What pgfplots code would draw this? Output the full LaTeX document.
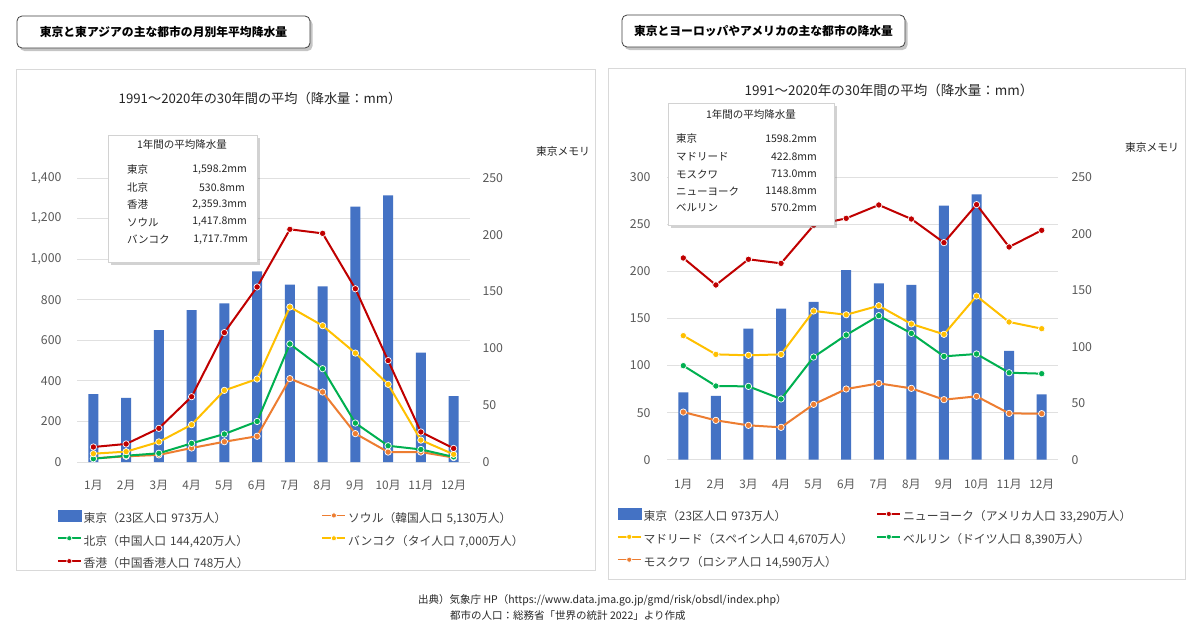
\documentclass[border=0pt]{standalone}
\usepackage{pgfplots}
\pgfplotsset{compat=1.18}
\usepackage{pgfplotstable}
\usepackage{fontspec}
\setmainfont{Noto Sans CJK JP}
\usetikzlibrary{shadows}
\definecolor{tkblue}{HTML}{4472C4}
\definecolor{cred}{HTML}{C00000}
\definecolor{cyel}{HTML}{FFC000}
\definecolor{cgrn}{HTML}{00B050}
\definecolor{corg}{HTML}{ED7D31}
\definecolor{tickgray}{HTML}{595959}
\definecolor{gridgray}{HTML}{E0E0E0}
\definecolor{framegray}{HTML}{D9D9D9}
\definecolor{txt}{HTML}{262626}
\definecolor{legtxt}{HTML}{404040}

\pgfplotstableread{
m tokyo hk bkk bj seoul
1 59.7 74 41 16 18
2 56.5 89 51 31 28
3 116.0 166 99 43 35
4 133.7 322 184 92 69
5 139.7 638 353 138 100
6 167.8 863 409 200 127
7 156.2 1147 764 582 411
8 154.7 1127 672 460 345
9 224.9 854 537 192 140
10 234.8 500 383 80 49
11 96.3 148 108 62 49
12 57.9 67 38 25 22
}\eastasia

\pgfplotstableread{
m tokyo ny madrid berlin moscow
1 59.7 214.3 131.8 99.9 50.6
2 56.5 185.6 111.9 78.3 41.8
3 116.0 212.9 110.9 77.9 36.5
4 133.7 208.6 111.9 64.5 34.4
5 139.7 249.0 158.0 109.1 58.8
6 167.8 256.4 154.0 132.5 75.1
7 156.2 270.6 163.6 153.0 81.1
8 154.7 255.7 144.2 134.2 75.8
9 224.9 230.6 133.2 109.8 63.8
10 234.8 271.0 173.9 112.3 67.3
11 96.3 226.0 146.3 92.4 49.2
12 57.9 243.7 139.2 91.4 48.9
}\euram

\pgfplotsset{
  base/.style={scale only axis, xmin=0.5, xmax=12.5, ymin=0, clip=false},
  gridaxis/.style={base, axis line style={draw=none}, major tick length=0pt,
    ymajorgrids, grid style={gridgray, line width=0.9pt},
    xtick={1,...,12},
    xticklabels={1月,2月,3月,4月,5月,6月,7月,8月,9月,10月,11月,12月},
    yticklabel style={font=\fontsize{12.3}{14}\selectfont, text=tickgray},
    xticklabel style={font=\fontsize{11.8}{14}\selectfont, text=tickgray},
    /pgf/number format/assume math mode=true,
    /pgf/number format/1000 sep={,}},
  baraxis/.style={base, axis x line=none, axis y line*=right,
    y axis line style={draw=none}, major tick length=0pt, ytick distance=50,
    ymax=250,
    yticklabel style={font=\fontsize{12.3}{14}\selectfont, text=tickgray},
    /pgf/number format/assume math mode=true},
  lineaxis/.style={base, hide axis, legend columns=2, legend cell align=left},
  ser/.style={color=#1, line width=2pt, mark=*, mark size=3.2pt,
    mark options={fill=#1, draw=white, line width=0.7pt}},
  legsty/.style={legend style={draw=none, fill=none, inner sep=0pt, outer sep=0pt,
    row sep=11pt,
    nodes={inner xsep=2pt, inner ysep=0pt, text height=9pt, text depth=2.5pt,
      text width=#1, font=\fontsize{11.8}{14}\selectfont, text=legtxt}}},
}

\begin{document}
\begin{tikzpicture}
\fill[white] (0pt,0pt) rectangle (1200pt,-632pt);
\begin{scope}[x=1pt,y=-1pt]
  \draw[framegray, line width=0.8pt] (16.5,69) rectangle (595,570.5);
  \draw[framegray, line width=0.8pt] (608,68) rectangle (1185,579);
\end{scope}

% ---------------- left chart ----------------
\begin{axis}[gridaxis, at={(77pt,-462pt)}, anchor=south west, width=393pt, height=284pt,
  ymax=1400, ytick distance=200,
  yticklabel style={xshift=-12pt}, xticklabel style={yshift=-15pt}]
\end{axis}
\begin{axis}[baraxis, at={(77pt,-462pt)}, anchor=south west, width=393pt, height=284pt,
  yticklabel style={xshift=9pt}]
\addplot[ybar, bar width=10pt, fill=tkblue, draw=none] table[x=m,y=tokyo] {\eastasia};
\end{axis}
\begin{axis}[lineaxis, at={(77pt,-462pt)}, anchor=south west, width=393pt, height=284pt,
  ymax=1400, legsty=236pt,
  legend style={at={(axis description cs:-0.0509,-0.168)}, anchor=north west},
  legend image code/.code={\draw[#1, line width=1.6pt, mark size=2.6pt, mark repeat=2, mark phase=2] plot coordinates {(0pt,3.5pt) (11.5pt,3.5pt) (23pt,3.5pt)};}]
\addlegendimage{legend image code/.code={\fill[tkblue] (0pt,-2pt) rectangle (23pt,9pt);}}
\addlegendentry{東京（23区人口 973万人）}
\addplot[ser=corg] table[x=m,y=seoul] {\eastasia};
\addlegendentry{ソウル（韓国人口 5,130万人）}
\addplot[ser=cgrn] table[x=m,y=bj] {\eastasia};
\addlegendentry{北京（中国人口 144,420万人）}
\addplot[ser=cyel] table[x=m,y=bkk] {\eastasia};
\addlegendentry{バンコク（タイ人口 7,000万人）}
\addplot[ser=cred] table[x=m,y=hk] {\eastasia};
\addlegendentry{香港（中国香港人口 748万人）}
\end{axis}

% ---------------- right chart ----------------
\begin{axis}[gridaxis, at={(667pt,-459.7pt)}, anchor=south west, width=391pt, height=282.4pt,
  ymax=300, ytick distance=50,
  yticklabel style={xshift=-13pt}, xticklabel style={yshift=-16pt}]
\end{axis}
\begin{axis}[baraxis, at={(667pt,-459.7pt)}, anchor=south west, width=391pt, height=282.4pt,
  yticklabel style={xshift=10pt}]
\addplot[ybar, bar width=10pt, fill=tkblue, draw=none] table[x=m,y=tokyo] {\euram};
\end{axis}
\begin{axis}[lineaxis, at={(667pt,-459.7pt)}, anchor=south west, width=391pt, height=282.4pt,
  ymax=300, legsty=231pt,
  legend style={at={(axis description cs:-0.128,-0.172)}, anchor=north west},
  legend image code/.code={\draw[#1, line width=1.6pt, mark size=2.6pt, mark repeat=2, mark phase=2] plot coordinates {(0pt,3.5pt) (11.5pt,3.5pt) (23pt,3.5pt)};}]
\addlegendimage{legend image code/.code={\fill[tkblue] (0pt,-2pt) rectangle (23pt,9pt);}}
\addlegendentry{東京（23区人口 973万人）}
\addplot[ser=cred] table[x=m,y=ny] {\euram};
\addlegendentry{ニューヨーク（アメリカ人口 33,290万人）}
\addplot[ser=cyel] table[x=m,y=madrid] {\euram};
\addlegendentry{マドリード（スペイン人口 4,670万人）}
\addplot[ser=cgrn] table[x=m,y=berlin] {\euram};
\addlegendentry{ベルリン（ドイツ人口 8,390万人）}
\addplot[ser=corg] table[x=m,y=moscow] {\euram};
\addlegendentry{モスクワ（ロシア人口 14,590万人）}
\end{axis}

% ---------------- annotations ----------------
\begin{scope}[x=1pt,y=-1pt]
  % title boxes
  \node[draw=black!75, line width=0.8pt, rounded corners=5pt, fill=white,
    drop shadow={shadow xshift=2.5pt, shadow yshift=-3pt, opacity=0.45},
    minimum width=293pt, minimum height=32pt, inner sep=0pt,
    font=\fontsize{11.8}{14}\selectfont\bfseries, text=black] at (163.5,32)
    {東京と東アジアの主な都市の月別年平均降水量};
  \node[draw=black!75, line width=0.8pt, rounded corners=5pt, fill=white,
    drop shadow={shadow xshift=2.5pt, shadow yshift=-3pt, opacity=0.45},
    minimum width=283pt, minimum height=32pt, inner sep=0pt,
    font=\fontsize{11.8}{14}\selectfont\bfseries, text=black] at (763.5,31)
    {東京とヨーロッパやアメリカの主な都市の降水量};
  % subtitles
  \node[font=\fontsize{13.2}{15}\selectfont, text=txt] at (260,98)
    {1991～2020年の30年間の平均（降水量：mm）};
  \node[font=\fontsize{13.5}{15}\selectfont, text=txt] at (889,90)
    {1991～2020年の30年間の平均（降水量：mm）};
  % right axis captions
  \node[font=\fontsize{10.8}{12}\selectfont, text=txt] at (563,151) {東京メモリ};
  \node[font=\fontsize{10.8}{12}\selectfont, text=txt] at (1152,147) {東京メモリ};
  % info box left
  \draw[gray!35, fill=white, line width=0.6pt,
    drop shadow={shadow xshift=2.5pt, shadow yshift=-2.5pt, opacity=0.35}]
    (108,135) rectangle (257,262);
  \begin{scope}[every node/.style={font=\fontsize{10.5}{12}\selectfont, text=txt, inner sep=0pt}]
    \node at (182,145) {1年間の平均降水量};
    \node[anchor=west] at (127,170) {東京};
    \node[anchor=west] at (127,187.5) {北京};
    \node[anchor=west] at (127,205) {香港};
    \node[anchor=west] at (127,222) {ソウル};
    \node[anchor=west] at (127,239.5) {バンコク};
    \node[anchor=east] at (247,170) {1,598.2mm};
    \node[anchor=east] at (245,187.5) {530.8mm};
    \node[anchor=east] at (247,205) {2,359.3mm};
    \node[anchor=east] at (247,222) {1,417.8mm};
    \node[anchor=east] at (248,239.5) {1,717.7mm};
  \end{scope}
  % info box right
  \draw[gray!35, fill=white, line width=0.6pt,
    drop shadow={shadow xshift=2.5pt, shadow yshift=-2.5pt, opacity=0.35}]
    (668,103) rectangle (834,225);
  \begin{scope}[every node/.style={font=\fontsize{10.5}{12}\selectfont, text=txt, inner sep=0pt}]
    \node at (751,115) {1年間の平均降水量};
    \node[anchor=west] at (676,139) {東京};
    \node[anchor=west] at (676,157) {マドリード};
    \node[anchor=west] at (676,174) {モスクワ};
    \node[anchor=west] at (676,191) {ニューヨーク};
    \node[anchor=west] at (676,208) {ベルリン};
    \node[anchor=east] at (817,139) {1598.2mm};
    \node[anchor=east] at (817,157) {422.8mm};
    \node[anchor=east] at (817,174) {713.0mm};
    \node[anchor=east] at (817,191) {1148.8mm};
    \node[anchor=east] at (817,208) {570.2mm};
  \end{scope}
  % footer
  \node[anchor=west, inner sep=0pt, font=\fontsize{10.5}{12}\selectfont, text=txt] at (418,600)
    {出典）気象庁 HP（https://www.data.jma.go.jp/gmd/risk/obsdl/index.php）};
  \node[anchor=west, inner sep=0pt, font=\fontsize{10.5}{12}\selectfont, text=txt] at (450,616)
    {都市の人口：総務省「世界の統計 2022」より作成};
\end{scope}
\end{tikzpicture}
\end{document}
